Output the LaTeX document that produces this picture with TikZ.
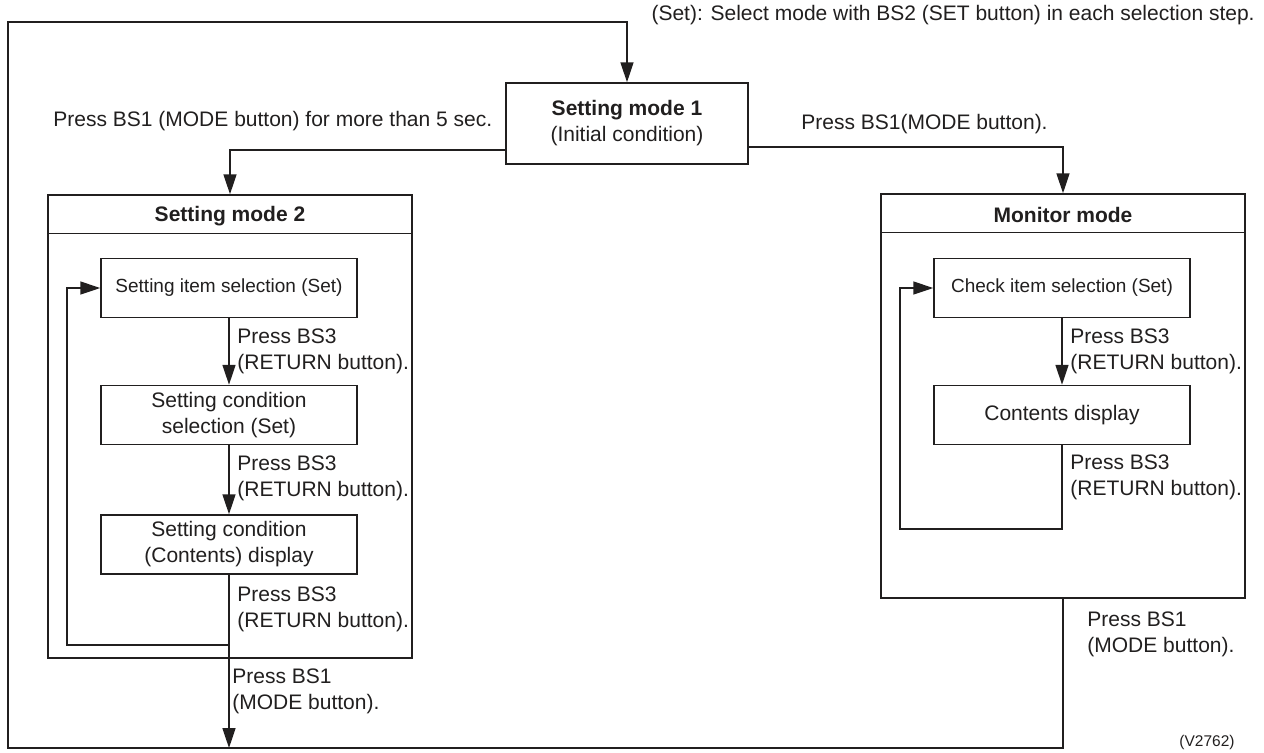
\documentclass[tikz,border=0pt]{standalone}
\usepackage{fontspec}
\setmainfont{Liberation Sans}
\usetikzlibrary{arrows.meta}
\definecolor{ink}{rgb}{0.13,0.12,0.12}
\tikzset{
  every node/.style={text=ink},
  ln/.style={draw=ink, line width=0.75pt},
  arr/.style={ln, -{Triangle[length=10pt,width=6.5pt]}},
  boxnode/.style={ln, fill=white, minimum width=128pt, minimum height=29.5pt, inner sep=0pt, align=center,
    font=\fontsize{10.5}{13}\selectfont},
  smallbox/.style={boxnode, font=\fontsize{9.5}{12}\selectfont},
  framebox/.style={ln, inner sep=0pt, minimum width=182pt},
  title/.style={font=\fontsize{10.5}{13}\selectfont\bfseries},
  lbl/.style={inner sep=0pt, anchor=west, align=left, font=\fontsize{10.5}{13}\selectfont},
}
\begin{document}
\begin{tikzpicture}[x=0.5pt,y=-0.5pt]
\useasboundingbox (0,0) rectangle (1264,752);
% corner coordinates
\coordinate (bl) at (8,748);
\coordinate (tl) at (8,22);
\coordinate (loopL) at (67,645);
\coordinate (loopR) at (900,529);

% Setting mode 1
\node[boxnode, minimum width=121pt, minimum height=40.5pt] (sm1) at (627,123.5)
  {\textbf{Setting mode 1}\\(Initial condition)};

% frames
\node[framebox, minimum height=231.5pt] (sm2) at (230,426.5) {};
\draw[ln] ([yshift=-19.5pt]sm2.north west) -- ([yshift=-19.5pt]sm2.north east);
\node[title] (sm2t) at (230,216) {Setting mode 2};

\node[framebox, minimum height=202pt] (mon) at (1063,396) {};
\draw[ln] ([yshift=-19.5pt]mon.north west) -- ([yshift=-19.5pt]mon.north east);
\node[title] (mont) at (1063,215) {Monitor mode};

% Setting mode 2 inner boxes
\node[smallbox] (A) at (229,288) {Setting item selection (Set)};
\node[boxnode] (B) at (229,415) {Setting condition\\selection (Set)};
\node[boxnode] (C) at (229,544.5) {Setting condition\\(Contents) display};

% Monitor inner boxes
\node[smallbox] (D) at (1062,288) {Check item selection (Set)};
\node[boxnode] (E) at (1062,415) {Contents display};

% connectors
\draw[arr] ([yshift=-13.25pt]sm1.west) -| (sm2.north);
\draw[arr] ([yshift=-11.75pt]sm1.east) -| (mon.north);
\draw[arr] (A) -- (B);
\draw[arr] (B) -- (C);
\draw[arr] (C.south) -- (C.south |- bl);
\draw[arr] (C.south |- loopL) -- (loopL) |- (A.west);
\draw[arr] (D) -- (E);
\draw[arr] (E.south) |- (loopR) |- (D.west);
\draw[arr] (mon.south) -- (mon.south |- bl) -- (bl) -- (tl) -| (sm1.north);

% labels
\node[lbl] (note) at (1255,15) [anchor=east] {(Set): Select mode with BS2 (SET button) in each selection step.};
\node[lbl] (l0) at (53,121) {Press BS1 (MODE button) for more than 5 sec.};
\node[lbl, anchor=east] (l1) at (1048,124) {Press BS1(MODE button).};
\node[lbl] (lA) at (237,351) {Press BS3\\(RETURN button).};
\node[lbl] (lB) at (237,478) {Press BS3\\(RETURN button).};
\node[lbl] (lC) at (237,609) {Press BS3\\(RETURN button).};
\node[lbl] (lD) at (232,691.5) {Press BS1\\(MODE button).};
\node[lbl] (lE) at (1070,351) {Press BS3\\(RETURN button).};
\node[lbl] (lF) at (1070,477) {Press BS3\\(RETURN button).};
\node[lbl] (lG) at (1087,634.5) {Press BS1\\(MODE button).};
\node[lbl, anchor=east, font=\fontsize{7.75}{9}\selectfont] (ref) at (1235,742) {(V2762)};
\end{tikzpicture}
\end{document}
